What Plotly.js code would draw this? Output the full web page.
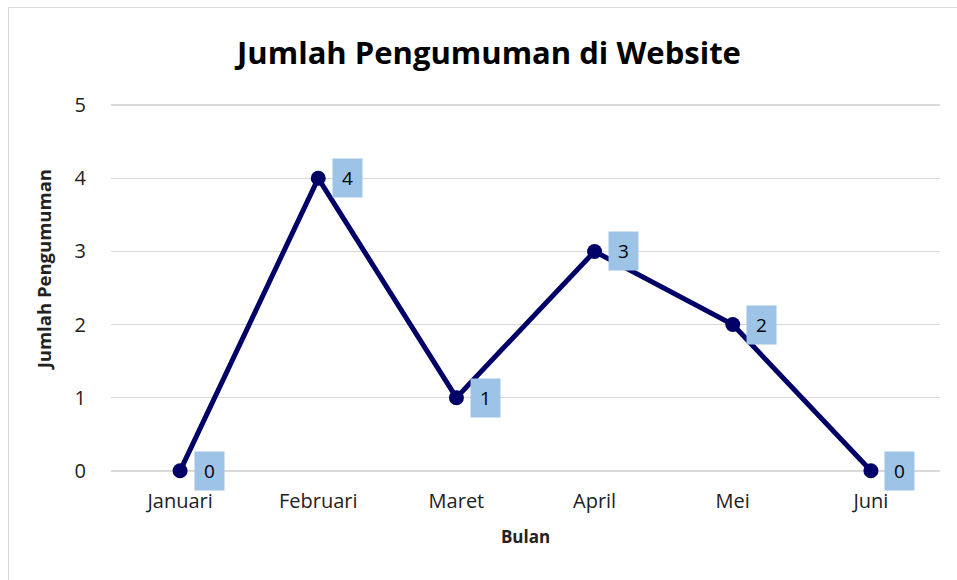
<!DOCTYPE html>
<html>
<head>
<meta charset="utf-8">
<script src="https://cdn.plot.ly/plotly-3.0.1.min.js"></script>
<style>
html,body{margin:0;padding:0;background:#fff;}
#wrap{position:relative;width:957px;height:580px;overflow:hidden;}
#frame{position:absolute;left:8px;top:7px;width:1000px;height:700px;border:1px solid #d9d9d9;box-sizing:border-box;}
#chart{position:absolute;left:0;top:0;width:957px;height:580px;}
</style>
</head>
<body>
<div id="wrap"><div id="frame"></div><div id="chart"></div></div>
<script>
const months = ["Januari","Februari","Maret","April","Mei","Juni"];
const counts = [0,4,1,3,2,0];
const chartTitle = "Jumlah Pengumuman di Website";
const xTitle = "Bulan";
const yTitle = "Jumlah Pengumuman";

const FONT = "Open Sans, Noto Sans, sans-serif";
const trace = {
  x: months, y: counts, type: "scatter", mode: "lines+markers",
  line: {color: "#000066", width: 5},
  marker: {color: "#000066", size: 15},
  cliponaxis: false,
  hoverinfo: "skip"
};
const annotations = months.map((m,i)=>({
  x: m, y: counts[i], xref: "x", yref: "y", text: String(counts[i]),
  showarrow: false, xshift: 29, bgcolor: "#9DC3E6", width: 27, height: 36, borderpad: 1,
  font: {family: FONT, size: 19, color: "#000"}, align: "center", valign: "middle"
}));
annotations.push({
  text: "<b>" + yTitle + "</b>", xref: "paper", yref: "paper", x: -0.081, y: 0.55,
  xanchor: "center", yanchor: "middle", textangle: -90, showarrow: false,
  font: {family: FONT, size: 18.5, color: "#222"}
});
const layout = {
  width: 957, height: 580,
  paper_bgcolor: "rgba(0,0,0,0)", plot_bgcolor: "rgba(0,0,0,0)",
  margin: {l: 111, r: 17, t: 103, b: 107},
  showlegend: false,
  font: {family: FONT, color: "#222"},
  title: {text: "<b>" + chartTitle + "</b>", x: 0.511, xref: "container", y: 1 - 53/580, yref: "container", yanchor: "middle", xanchor: "center",
    font: {family: FONT, size: 31, color: "#000"}},
  xaxis: {type: "category", range: [-0.5, 5.5], showgrid: false, zeroline: false, showline: false,
    ticks: "outside", ticklen: 10, tickcolor: "rgba(0,0,0,0)", tickfont: {size: 20, color: "#222"},
    title: {text: "<b>" + xTitle + "</b>", font: {size: 17, color: "#222"}, standoff: 18}},
  yaxis: {range: [-0.03, 5.03], tickvals: [0,1,2,3,4,5], showgrid: true, gridcolor: "#d9d9d9", gridwidth: 1.5, zeroline: false, showline: false,
    ticks: "outside", ticklen: 20, tickcolor: "rgba(0,0,0,0)", tickfont: {size: 20, color: "#222"}},
  annotations: annotations
};
Plotly.newPlot("chart", [trace], layout, {displayModeBar: false, staticPlot: true});
</script>
</body>
</html>
